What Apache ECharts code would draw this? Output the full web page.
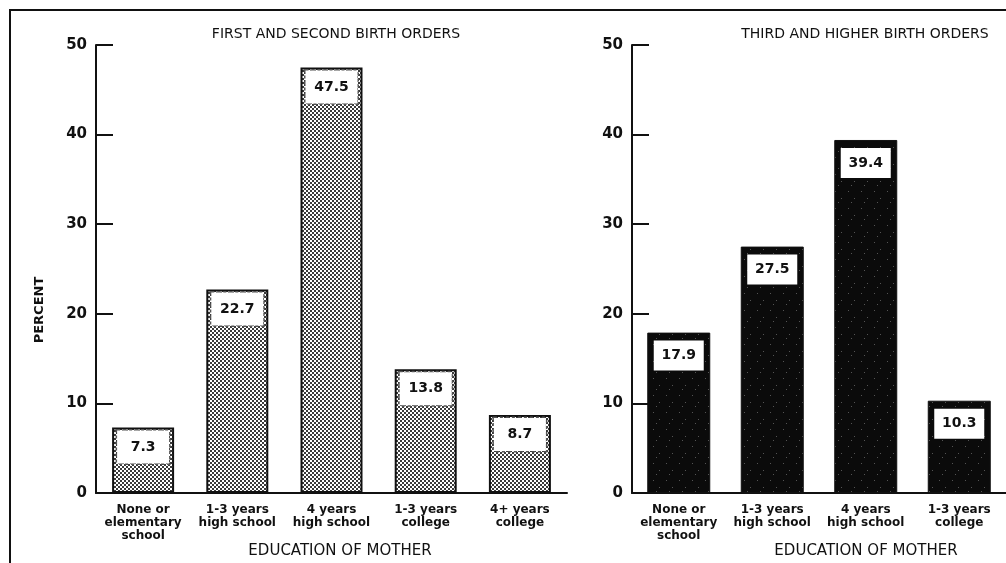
<!DOCTYPE html>
<html>
<head>
<meta charset="utf-8">
<script src="https://cdn.jsdelivr.net/npm/echarts@6/dist/echarts.min.js"></script>
<style>
html,body{margin:0;padding:0;background:#fff;}
#chart{width:1006px;height:563px;position:absolute;left:0;top:0;}
#frame{position:absolute;left:9px;top:9px;width:1000px;height:560px;border-left:2px solid #111;border-top:2px solid #111;pointer-events:none;}
</style>
</head>
<body>
<div id="chart"></div>
<div id="frame"></div>
<script>
// ---- data ----
var leftTitle = 'FIRST AND SECOND BIRTH ORDERS';
var rightTitle = 'THIRD AND HIGHER BIRTH ORDERS';
var leftCategories = ['None or\nelementary\nschool', '1-3 years\nhigh school', '4 years\nhigh school', '1-3 years\ncollege', '4+ years\ncollege'];
var leftValues = [7.3, 22.7, 47.5, 13.8, 8.7];
var rightCategories = ['None or\nelementary\nschool', '1-3 years\nhigh school', '4 years\nhigh school', '1-3 years\ncollege'];
var rightValues = [17.9, 27.5, 39.4, 10.3];
var yTicks = [0, 10, 20, 30, 40, 50];
var yAxisName = 'PERCENT';
var xAxisName = 'EDUCATION OF MOTHER';

// ---- patterns ----
function halftone() {
  var c = document.createElement('canvas');
  c.width = 4; c.height = 4;
  var g = c.getContext('2d');
  g.fillStyle = '#ffffff'; g.fillRect(0, 0, 4, 4);
  g.fillStyle = '#3a3a3a';
  g.fillRect(0, 0, 2, 2); g.fillRect(2, 2, 2, 2);
  return c;
}
function darkSpeckle() {
  var c = document.createElement('canvas');
  c.width = 13; c.height = 17;
  var g = c.getContext('2d');
  g.fillStyle = '#0b0b0b'; g.fillRect(0, 0, 13, 17);
  g.fillStyle = '#555';
  g.fillRect(3, 4, 1, 1); g.fillRect(9, 11, 1, 1); g.fillRect(6, 15, 1, 1);
  return c;
}

var FONT = '"DejaVu Sans", "Liberation Sans", sans-serif';
var axisCommon = {
  axisLine: { show: true, lineStyle: { color: '#111', width: 2 } },
  splitLine: { show: false }
};

function yAxis(gi) {
  return Object.assign({}, axisCommon, {
    type: 'value', gridIndex: gi, min: yTicks[0], max: yTicks[yTicks.length - 1], interval: 10,
    axisTick: { show: true, inside: true, length: 17, lineStyle: { color: '#111', width: 2 } },
    axisLabel: { margin: 9, color: '#111', fontSize: 15, fontWeight: 'bold', fontFamily: FONT }
  });
}
function xAxis(gi, cats) {
  return Object.assign({}, axisCommon, {
    type: 'category', gridIndex: gi, data: cats,
    axisTick: { show: false },
    axisLabel: { margin: 10, color: '#111', fontSize: 12, fontWeight: 'bold', fontFamily: FONT, lineHeight: 13, interval: 0 }
  });
}
var titleStyle = { fontSize: 14, fontWeight: 'normal', color: '#111', fontFamily: FONT };
var nameStyle = { fontSize: 15, fontWeight: 'normal', color: '#111', fontFamily: FONT };

var chart = echarts.init(document.getElementById('chart'), null, { renderer: 'canvas' });
chart.setOption({
  backgroundColor: '#fff',
  animation: false,
  title: [
    { text: leftTitle, left: 336, top: 27, padding: 0, textAlign: 'center', textStyle: titleStyle },
    { text: rightTitle, left: 865, top: 27, padding: 0, textAlign: 'center', textStyle: titleStyle },
    { text: xAxisName, left: 340, top: 544, padding: 0, textAlign: 'center', textStyle: nameStyle },
    { text: xAxisName, left: 866, top: 544, padding: 0, textAlign: 'center', textStyle: nameStyle }
  ],
  graphic: [
    { type: 'text', x: 40, y: 310, rotation: Math.PI / 2,
      style: { text: yAxisName, align: 'center', verticalAlign: 'middle', fill: '#111', font: 'bold 13px ' + FONT } }
  ],
  grid: [
    { left: 96, width: 471, top: 45, height: 448 },
    { left: 632, width: 374, top: 45, height: 448 }
  ],
  xAxis: [xAxis(0, leftCategories), xAxis(1, rightCategories)],
  yAxis: [yAxis(0), yAxis(1)],
  series: [
    {
      type: 'bar', xAxisIndex: 0, yAxisIndex: 0, data: leftValues, barWidth: 62,
      itemStyle: { color: { image: halftone(), repeat: 'repeat' }, borderColor: '#111', borderWidth: 2 },
      label: {
        show: true, position: 'insideTop', distance: 3, formatter: '{c}',
        width: 52, height: 33, lineHeight: 33, align: 'center',
        color: '#111', fontSize: 14, fontWeight: 'bold', fontFamily: FONT,
        backgroundColor: '#fff', borderColor: '#555', borderWidth: 1.5, borderType: 'dotted'
      }
    },
    {
      type: 'bar', xAxisIndex: 1, yAxisIndex: 1, data: rightValues, barWidth: 63,
      itemStyle: { color: { image: darkSpeckle(), repeat: 'repeat' }, borderColor: '#111', borderWidth: 1 },
      label: {
        show: true, position: 'insideTop', distance: 8, formatter: '{c}',
        width: 50, height: 30, lineHeight: 30, align: 'center',
        color: '#111', fontSize: 14, fontWeight: 'bold', fontFamily: FONT,
        backgroundColor: '#fff'
      }
    }
  ]
});
</script>
</body>
</html>
